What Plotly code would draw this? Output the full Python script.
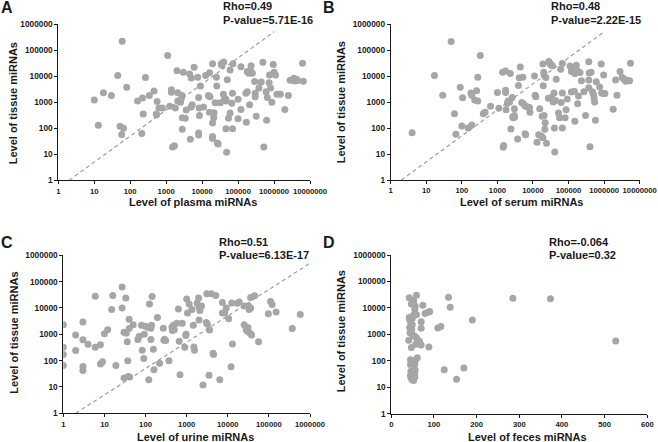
import plotly.graph_objects as go

# ---- data ----
plasma_level = [10, 13, 18, 30, 45, 52, 60, 58, 65, 80,
                160, 220, 230, 210, 265, 340, 460, 530, 560, 540,
                630, 790, 1100, 1400, 1400, 1250, 1500, 1700, 1800, 2000,
                2100, 2100, 2500, 2600, 2800, 2800, 3400, 2800, 3000, 3600,
                4500, 5000, 4700, 6000, 5300, 4900, 8000, 8000, 7500, 8000,
                9000, 8400, 8300, 11000, 12500, 15000, 16000, 16000, 16500, 19500,
                19500, 19500, 19500, 23000, 21000, 21500, 25000, 26500, 28000, 25500,
                32000, 34000, 40000, 35000, 39000, 42000, 46000, 46000, 46000, 48000,
                50000, 54000, 60000, 60000, 70000, 70000, 72000, 67000, 100000, 100000,
                120000, 120000, 170000, 165000, 180000, 180000, 200000, 220000, 230000, 210000,
                250000, 290000, 300000, 300000, 320000, 380000, 440000, 490000, 520000, 600000,
                620000, 650000, 730000, 750000, 800000, 870000, 950000, 1000000, 1100000, 1200000,
                1500000, 2000000, 2500000, 2800000, 3400000, 3600000, 3800000, 4200000, 4500000, 6200000,
                6500000]
plasma_tissue = [1200, 130, 2300, 1800, 10500, 120, 220000, 57, 100, 3700,
                 1100, 1450, 350, 62, 8800, 1800, 2700, 350, 1050, 330,
                 600, 600, 62000, 3000, 2400, 700, 19, 21, 600, 16000,
                 2300, 1100, 1000, 1300, 1800, 250, 240, 92, 14000, 500,
                 12000, 8500, 38, 22000, 800, 650, 65, 55, 9000, 1500,
                 4200, 310, 600, 650, 10500, 1800, 13500, 410, 1600, 30000,
                 48, 40, 160, 950, 250, 390, 9000, 27, 25, 4200,
                 950, 30000, 35000, 26000, 2000, 1400, 1100, 1300, 95, 12,
                 7300, 240, 17000, 380, 95, 2200, 30000, 900, 1300, 230,
                 23000, 520, 170, 2200, 2500, 15000, 13000, 16000, 25000, 800,
                 13000, 6200, 1600, 2200, 290, 3500, 6000, 34000, 19, 2500,
                 200, 1500, 5500, 11000, 3500, 1000, 28000, 14000, 11000, 2000,
                 2000, 520, 1800, 7000, 7000, 8200, 6500, 7500, 6800, 31000,
                 6300]

serum_level = [4, 17, 29, 62, 68, 50, 90, 105, 100, 150,
               190, 180, 190, 230, 260, 280, 280, 330, 400, 450,
               640, 1000, 1100, 1400, 1500, 1450, 1700, 1700, 1700, 1750,
               1900, 2000, 2200, 2300, 2400, 2600, 2700, 2800, 3000, 3000,
               3000, 3700, 3900, 4100, 4400, 4800, 5200, 5400, 6000, 6000,
               6200, 6800, 8000, 8200, 11000, 11500, 12000, 13000, 14500, 15500,
               17500, 18000, 19000, 19000, 19500, 20000, 20500, 20500, 21500, 22000,
               24000, 23000, 27000, 30000, 28000, 32000, 33000, 35000, 37000, 39000,
               40000, 43000, 41000, 45000, 52000, 56000, 60000, 62000, 67000, 67000,
               67000, 80000, 85000, 92000, 110000, 120000, 130000, 120000, 145000, 150000,
               150000, 165000, 180000, 180000, 190000, 210000, 230000, 270000, 300000, 370000,
               370000, 380000, 370000, 400000, 430000, 470000, 500000, 520000, 540000, 570000,
               600000, 750000, 830000, 850000, 950000, 970000, 1050000, 1800000, 2100000, 2300000,
               2800000, 3200000, 3500000, 3800000, 4100000, 4500000, 5200000, 5500000]
serum_tissue = [65, 10500, 1800, 350, 57, 210000, 3700, 1450, 120, 100,
                130, 2200, 1800, 1200, 2700, 1100, 9000, 62000, 350, 400,
                680, 2300, 580, 14000, 21, 18, 15500, 2800, 2300, 500,
                900, 1100, 1000, 12500, 92, 1500, 270, 250, 550, 300,
                260, 38, 4300, 8500, 22000, 950, 9000, 850, 700, 60,
                55, 650, 620, 400, 10000, 1800, 1600, 28, 55, 550,
                48, 280, 29000, 42, 4200, 14000, 11000, 300, 90, 160,
                26, 8800, 1400, 30000, 36000, 27000, 1500, 25000, 1000, 2200,
                100, 1150, 12, 7500, 380, 250, 18000, 950, 30000, 2200,
                100, 250, 500, 1300, 24000, 15000, 16500, 2400, 2600, 180,
                12500, 26000, 15500, 850, 1700, 13500, 6500, 2500, 300, 3500,
                35000, 13000, 7000, 19, 14000, 2500, 2000, 1400, 1000, 200,
                6000, 3800, 29000, 2200, 2100, 11000, 2100, 530, 7000, 1800,
                15000, 9000, 8000, 7000, 6300, 6800, 6500, 31000]

urine_level = [1, 1, 1, 1, 2, 2, 3, 3, 3, 3,
               4, 6, 6, 8, 8, 9, 10, 12, 16, 15,
               19, 27, 27, 30, 30, 33, 34, 36, 37, 38,
               40, 40, 41, 50, 65, 70, 80, 83, 93, 91,
               100, 115, 120, 125, 135, 140, 135, 145, 155, 160,
               195, 220, 270, 290, 280, 310, 370, 440, 450, 480,
               500, 580, 630, 660, 690, 780, 900, 950, 970, 1000,
               1050, 1150, 1350, 1450, 1500, 1550, 1800, 1950, 2000, 2000,
               2300, 2100, 3000, 2500, 3200, 3500, 3100, 3600, 4000, 4400,
               4500, 5100, 6400, 7400, 7400, 8400, 9200, 10500, 12000, 12500,
               13000, 17000, 19000, 25000, 25000, 28000, 31000, 32000, 33000, 35000,
               36000, 36000, 38000, 45000, 56000, 97000, 110000, 120000, 150000, 370000,
               580000, 30000]
urine_tissue = [2300, 320, 170, 65, 240, 950, 2900, 620, 60, 42,
                420, 28000, 320, 400, 75, 90, 1050, 1500, 30000, 8800,
                65, 62000, 10000, 1200, 22, 24000, 1100, 520, 100, 25,
                3700, 1650, 24, 2300, 630, 850, 2200, 250, 1000, 120,
                2000, 1800, 19, 14000, 1700, 2200, 630, 27000, 270, 45,
                4300, 80, 1700, 650, 600, 580, 98, 1900, 1400, 2200,
                1500, 2600, 9200, 550, 29, 2600, 320, 900, 1000, 22000,
                6500, 14000, 8700, 2200, 330, 250, 15000, 24000, 11000, 3500,
                12000, 8000, 2800, 12, 2400, 28, 35000, 1450, 35000, 190,
                170, 30000, 19, 16000, 6400, 6400, 10000, 3900, 58, 15500,
                430, 15000, 17000, 2300, 12000, 1500, 1800, 12000, 8800, 1100,
                25000, 10000, 950, 29000, 520, 6000, 17500, 13500, 7000, 1650,
                5700, 1300]

feces_level = [42, 52, 59, 47, 53, 56, 55, 74, 79, 86,
               90, 52, 59, 42, 49, 43, 46, 49, 70, 43,
               48, 70, 109, 116, 44, 48, 54, 59, 41, 66,
               70, 57, 47, 88, 190, 134, 138, 285, 373, 526,
               61, 45, 48, 52, 55, 45, 56, 46, 53, 56,
               45, 51, 55, 46, 48, 52, 55, 124, 170, 153]
feces_tissue = [24000, 19000, 30000, 14000, 13500, 11500, 8800, 12500, 6200, 6800,
                7300, 5300, 5500, 4300, 4000, 3600, 2600, 2300, 3000, 1800,
                1500, 1700, 1750, 2000, 1150, 1050, 870, 750, 600, 550,
                400, 420, 320, 330, 3500, 25000, 10500, 23000, 22000, 560,
                130, 110, 100, 85, 72, 72, 100, 40, 42, 45,
                28, 27, 32, 24, 20, 18, 24, 46, 54, 20]

fit_x = [2, 1000000]
fit_y = [1, 500000]

log_vals = [1, 10, 100, 1000, 10000, 100000, 1000000, 10000000]
log_labels = ["1", "10", "100", "1000", "10000", "100000", "1000000", "10000000"]
lin_vals = [0, 100, 200, 300, 400, 500, 600]
lin_labels = ["0", "100", "200", "300", "400", "500", "600"]

W, H = 658, 442
FONT = "Liberation Sans, Arial, sans-serif"
GREY = "#A6A6A6"
INK = "#1a1a1a"


def px(x, y):
    return x / W, 1 - y / H


panels = [
    dict(letter="A", x=plasma_level, y=plasma_tissue, xlab="Level of plasma miRNAs",
         rho="Rho=0.49", p="P-value=5.71E-16", logx=True, dec=7,
         xd=(58.3, 310), yd=(24, 180.3), let=(7, 7.5), txt=(220.5, 6.5, 20),
         xt=(193, 202.5), yt=(13.3, 103), fit=True),
    dict(letter="B", x=serum_level, y=serum_tissue, xlab="Level of serum miRNAs",
         rho="Rho=0.48", p="P-value=2.22E-15", logx=True, dec=7,
         xd=(390.7, 639.7), yd=(24, 180), let=(329, 7.5), txt=(548.7, 6.5, 20),
         xt=(521.7, 202.5), yt=(341.3, 102), fit=True),
    dict(letter="C", x=urine_level, y=urine_tissue, xlab="Level of urine miRNAs",
         rho="Rho=0.51", p="P-value=6.13E-17", logx=True, dec=6,
         xd=(63.3, 310), yd=(255.3, 413.3), let=(6.5, 242), txt=(216.7, 242, 255.3),
         xt=(195.5, 436.5), yt=(14, 332.7), fit=True),
    dict(letter="D", x=feces_level, y=feces_tissue, xlab="Level of feces miRNAs",
         rho="Rho=-0.064", p="P-value=0.32", logx=False, dec=None,
         xd=(391.3, 647.3), yd=(255, 413.7), let=(329, 242), txt=(547, 242, 255.3),
         xt=(527.7, 436.5), yt=(341.3, 331), fit=False),
]

fig = go.Figure()
annotations = []

for i, pn in enumerate(panels, start=1):
    sfx = "" if i == 1 else str(i)
    fig.add_trace(go.Scatter(x=pn["x"], y=pn["y"], mode="markers",
                             marker=dict(color=GREY, size=7, line=dict(width=0)),
                             xaxis="x" + sfx, yaxis="y" + sfx, showlegend=False))
    if pn["fit"]:
        fig.add_trace(go.Scatter(x=fit_x, y=fit_y, mode="lines",
                                 line=dict(color="#9E9E9E", width=1.2, dash="4px,3px"),
                                 xaxis="x" + sfx, yaxis="y" + sfx, showlegend=False))

    # automargin off: the default template would shrink the plot to fit tick labels
    common = dict(showline=True, linecolor=INK, linewidth=1, ticks="outside",
                  ticklen=3, tickcolor=INK, showgrid=False, zeroline=False, tickangle=0,
                  automargin=False)
    x0, x1 = pn["xd"]
    yb, yt_ = pn["yd"]
    xfont = dict(size=7.7, family=FONT, color=INK, weight="bold")
    yfont = dict(size=8.3, family=FONT, color=INK, weight="bold")
    if pn["logx"]:
        xax = dict(type="log", range=[0, pn["dec"]], tickvals=log_vals[:pn["dec"] + 1],
                   ticktext=log_labels[:pn["dec"] + 1], tickfont=xfont, **common)
    else:
        xax = dict(range=[0, 600], tickvals=lin_vals, ticktext=lin_labels,
                   tickfont=xfont, **common)
    xax.update(domain=[x0 / W, x1 / W], anchor="y" + sfx)
    yax = dict(type="log", range=[0, 6], tickvals=log_vals[:7], ticktext=log_labels[:7],
               domain=[1 - yt_ / H, 1 - yb / H], anchor="x" + sfx, tickfont=yfont, **common)
    fig.update_layout({"xaxis" + sfx: xax, "yaxis" + sfx: yax})

    bold = dict(family=FONT, color=INK, weight="bold")
    lx, ly = px(*pn["let"])
    annotations.append(dict(x=lx, y=ly, xref="paper", yref="paper", text=pn["letter"],
                            showarrow=False, xanchor="center", yanchor="middle",
                            font=dict(size=16, **bold)))
    tx = pn["txt"][0] / W
    annotations.append(dict(x=tx, y=1 - pn["txt"][1] / H, xref="paper", yref="paper",
                            text=pn["rho"], showarrow=False, xanchor="left", yanchor="middle",
                            font=dict(size=11, **bold)))
    annotations.append(dict(x=tx, y=1 - pn["txt"][2] / H, xref="paper", yref="paper",
                            text=pn["p"], showarrow=False, xanchor="left", yanchor="middle",
                            font=dict(size=11, **bold)))
    ax_, ay_ = px(*pn["xt"])
    annotations.append(dict(x=ax_, y=ay_, xref="paper", yref="paper", text=pn["xlab"],
                            showarrow=False, xanchor="center", yanchor="middle",
                            font=dict(size=11, **bold)))
    bx_, by_ = px(*pn["yt"])
    annotations.append(dict(x=bx_, y=by_, xref="paper", yref="paper",
                            text="Level of tissue miRNAs", textangle=-90,
                            showarrow=False, xanchor="center", yanchor="middle",
                            font=dict(size=11, **bold)))

fig.update_layout(width=W, height=H, margin=dict(l=0, r=0, t=0, b=0),
                  paper_bgcolor="white", plot_bgcolor="white",
                  font=dict(family=FONT), annotations=annotations)

# no body margin / scrollbars, fixed size, no modebar
fig.write_html("out.html",
               config={"displayModeBar": False, "responsive": False},
               post_script="document.body.style.margin = '0'; document.body.style.overflow = 'hidden';")
